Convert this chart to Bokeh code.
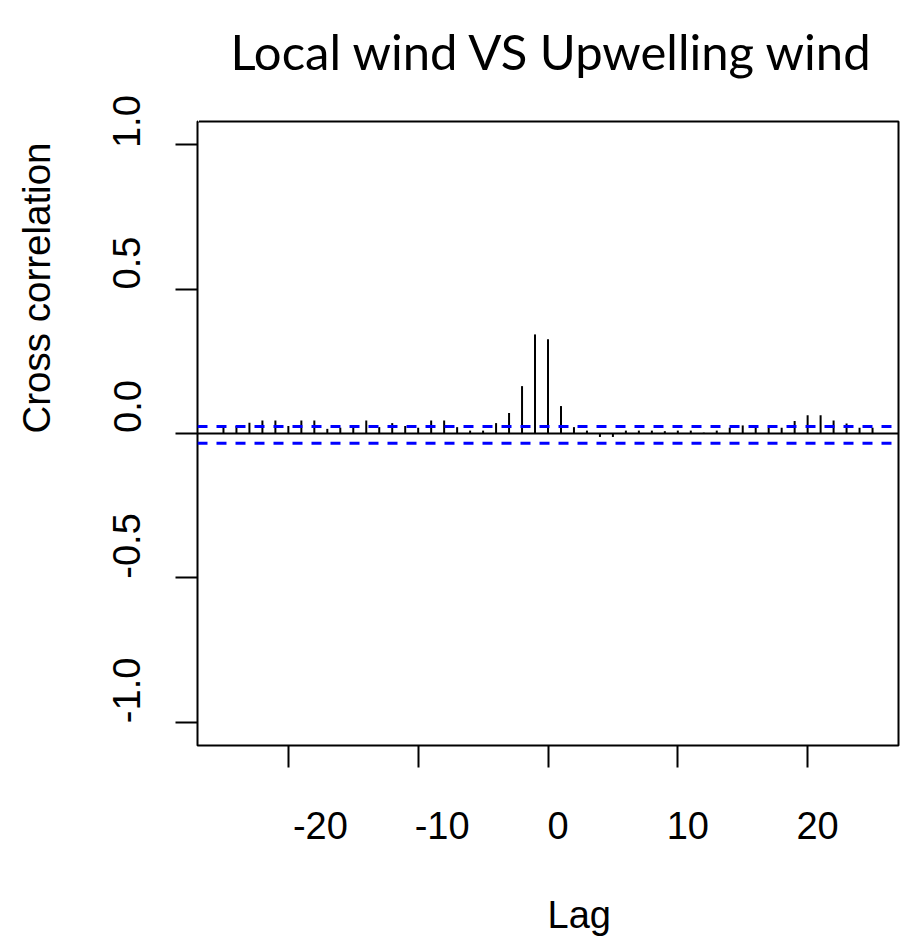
from bokeh.plotting import figure
from bokeh.models import Range1d, FixedTicker, Span, LinearAxis, Title
from bokeh.embed import file_html
from bokeh.resources import INLINE

# ---- data ----
lags = list(range(-25, 26))
ccf_values = [
    0.020, 0.026, 0.037, 0.045, 0.045, 0.026, 0.045, 0.045, 0.016, 0.020,   # -25 .. -16
    0.026, 0.045, 0.022, 0.036, 0.026, 0.020, 0.045, 0.045, 0.022, 0.010,   # -15 .. -6
    0.010, 0.036, 0.071, 0.164, 0.343,                                      # -5 .. -1
    0.326,                                                                  # 0
    0.095, 0.022, 0.010, -0.012, -0.012, 0.010, 0.010, 0.010, 0.008, 0.010, # 1 .. 10
    0.010, 0.003, 0.010, 0.020, 0.028, 0.020, 0.020, 0.020, 0.043, 0.063,   # 11 .. 20
    0.063, 0.045, 0.035, 0.020, 0.020,                                      # 21 .. 25
]
ci_upper = 0.024
ci_lower = -0.034
x_ticks = [-20, -10, 0, 10, 20]
x_tick_labels = ["-20", "-10", "0", "10", "20"]
y_ticks = [-1.0, -0.5, 0.0, 0.5, 1.0]
y_tick_labels = ["-1.0", "-0.5", "0.0", "0.5", "1.0"]
title_text = "Local wind VS Upwelling wind"
x_title = "Lag"
y_title = "Cross correlation"

# ---- style ----
FONT = "Liberation Sans"
TITLE_FONT = "Lato"
XLIM = (-27, 27)
YLIM = (-1.08, 1.08)
FRAME_W, FRAME_H = 701, 624
# pixel nudges of the tick labels relative to their ticks (as drawn in the reference)
X_LABEL_DX = [32, 24, 10, 10, 10]
Y_LABEL_DY = [32, 32, 27, 26, 23]

p = figure(width=900, height=937, output_backend="svg", toolbar_location=None,
           title=None,
           x_range=Range1d(*XLIM), y_range=Range1d(*YLIM),
           min_border_left=197, min_border_right=2, min_border_top=121,
           min_border_bottom=192)
p.background_fill_color = "white"
p.border_fill_color = "white"
p.xgrid.visible = False
p.ygrid.visible = False
p.outline_line_color = "black"
p.outline_line_width = 2
p.outline_line_alpha = 1.0


def quiet(ax):
    ax.axis_line_color = None
    ax.minor_tick_line_color = None
    ax.minor_tick_out = 0
    ax.minor_tick_in = 0
    ax.major_tick_in = 0


def spacer(size, tick):
    ax = LinearAxis(ticker=FixedTicker(ticks=[tick], minor_ticks=[]))
    quiet(ax)
    ax.major_tick_line_color = "white"
    ax.major_tick_line_width = 1
    ax.major_tick_out = size
    ax.major_label_overrides = {tick: ""}
    ax.major_label_text_font_size = "0px"
    ax.major_label_standoff = 0
    return ax


# main axes: ticks only
for ax, ticks in ((p.xaxis[0], x_ticks), (p.yaxis[0], y_ticks)):
    quiet(ax)
    ax.ticker = FixedTicker(ticks=ticks, minor_ticks=[])
    ax.major_tick_line_color = "black"
    ax.major_tick_line_width = 2
    ax.major_tick_out = 22
    ax.major_label_overrides = {t: "" for t in ticks}
    ax.major_label_text_font_size = "0px"
    ax.major_label_standoff = 0

# label axes: same ranges, labels nudged by a few pixels as in the reference
ux = (XLIM[1] - XLIM[0]) / FRAME_W
uy = (YLIM[1] - YLIM[0]) / FRAME_H
x_label_pos = [t + d * ux for t, d in zip(x_ticks, X_LABEL_DX)]
y_label_pos = [min(t + d * uy, YLIM[1] - 1e-6) for t, d in zip(y_ticks, Y_LABEL_DY)]

xlab_axis = LinearAxis(ticker=FixedTicker(ticks=x_label_pos, minor_ticks=[]),
                       major_label_overrides=dict(zip(x_label_pos, x_tick_labels)))
ylab_axis = LinearAxis(ticker=FixedTicker(ticks=y_label_pos, minor_ticks=[]),
                       major_label_overrides=dict(zip(y_label_pos, y_tick_labels)),
                       major_label_orientation="vertical")
for ax in (xlab_axis, ylab_axis):
    quiet(ax)
    ax.major_tick_line_color = None
    ax.major_tick_out = 0
    ax.major_label_text_font = FONT
    ax.major_label_text_font_size = "38px"
    ax.major_label_text_color = "black"
xlab_axis.major_label_standoff = 44
ylab_axis.major_label_standoff = 35
p.add_layout(xlab_axis, "below")
p.add_layout(ylab_axis, "left")

# spacers, then axis titles that start at the centre of the plotting box
p.add_layout(spacer(50, XLIM[0] + 0.05), "below")
p.add_layout(spacer(53, YLIM[0] + 0.005), "left")
p.add_layout(Title(text=x_title, align="left", offset=350, standoff=0,
                   text_font=FONT, text_font_size="38px", text_font_style="normal",
                   text_color="black"), "below")
p.add_layout(Title(text=y_title, align="left", offset=312, standoff=0,
                   text_font=FONT, text_font_size="38.5px", text_font_style="normal",
                   text_color="black"), "left")

# main title
p.add_layout(spacer(42, XLIM[0] + 0.05), "above")
p.add_layout(Title(text=title_text, align="left", offset=33, standoff=0,
                   text_font=TITLE_FONT, text_font_size="49px", text_font_style="normal",
                   text_color="black"), "above")

# bars
p.segment(x0=lags, y0=[0] * len(lags), x1=lags, y1=ccf_values,
          line_color="black", line_width=2)

# zero line and confidence bounds
p.add_layout(Span(location=0, dimension="width", line_color="black", line_width=2))
for ci in (ci_upper, ci_lower):
    p.add_layout(Span(location=ci, dimension="width", line_color="#0000FF",
                      line_width=3, line_dash="10 9"))

open("out.html", "w").write(file_html(p, INLINE))
